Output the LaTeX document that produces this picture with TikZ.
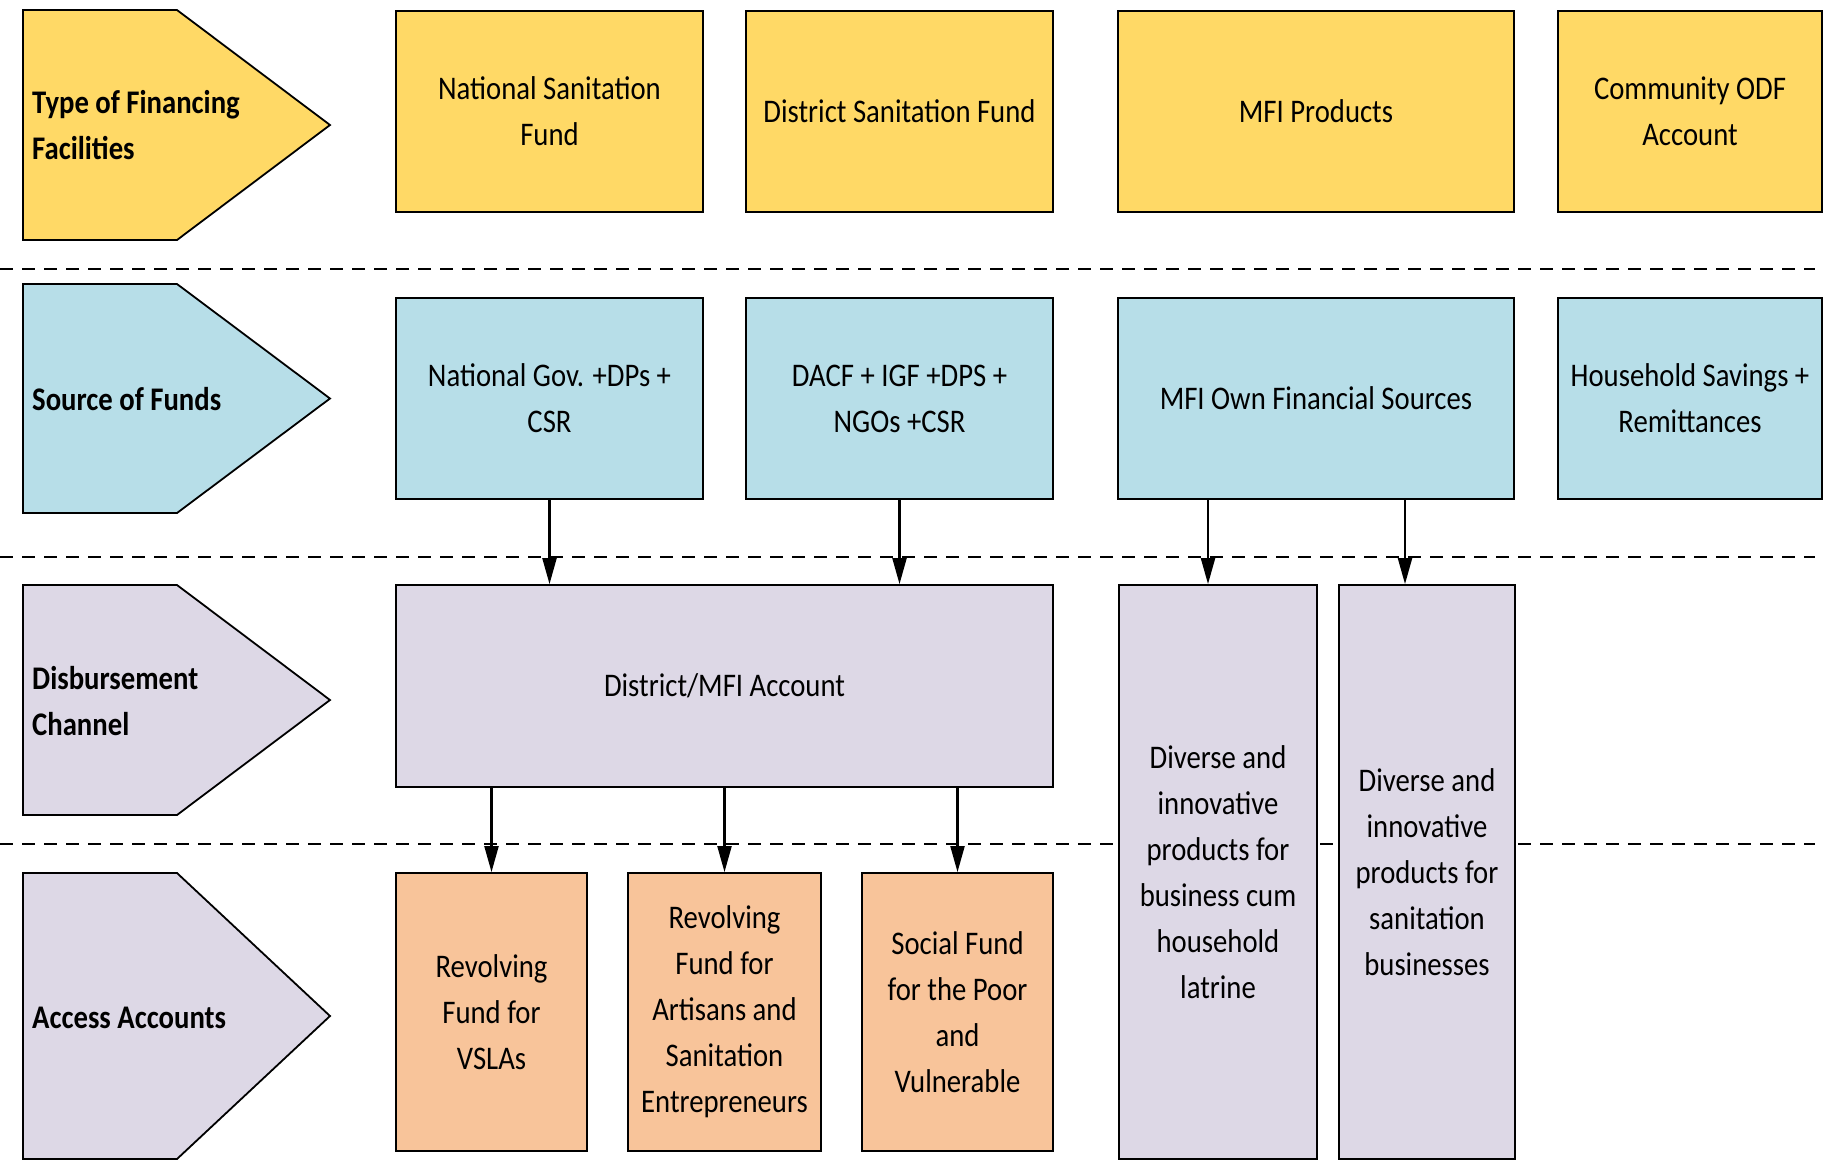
\documentclass[tikz,border=0pt]{standalone}
\usepackage{fontspec}
\setmainfont{Carlito}[FakeStretch=0.87]
\usetikzlibrary{arrows.meta}
\definecolor{yel}{HTML}{FFD966}
\definecolor{blu}{HTML}{B7DEE8}
\definecolor{lav}{HTML}{DDD8E6}
\definecolor{org}{HTML}{F8C49A}
\tikzset{
  box/.style={draw=black, line width=1.8pt, inner sep=0pt, align=center,
    font=\fontsize{33}{46}\selectfont},
  pent/.style={draw=black, line width=1.8pt},
  plabel/.style={anchor=west, inner sep=0pt, align=left,
    font=\fontsize{33}{46}\selectfont\bfseries},
  sep/.style={dashed, dash pattern=on 13pt off 9pt, line width=2.6pt},
  arr/.style={line width=2.1pt, -{Triangle[length=26pt,width=14pt]}}
}
\begin{document}
\begin{tikzpicture}[x=1pt,y=-1pt]
\useasboundingbox (0,0) rectangle (1825,1160);
% separators
\coordinate (s1a) at (0,269); \coordinate (s1b) at (1815,269);
\coordinate (s2a) at (0,557); \coordinate (s2b) at (1815,557);
\coordinate (s3a) at (0,844); \coordinate (s3b) at (1815,844);
\draw[sep] (s1a) -- (s1b);
\draw[sep] (s2a) -- (s2b);
\draw[sep] (s3a) -- (s3b);
% pentagons
\draw[pent, fill=yel] (23,10) -- (177,10) -- (330,125) -- (177,240) -- (23,240) -- cycle;
\draw[pent, fill=blu] (23,284) -- (177,284) -- (330,398.5) -- (177,513) -- (23,513) -- cycle;
\draw[pent, fill=lav] (23,585) -- (177,585) -- (330,700) -- (177,815) -- (23,815) -- cycle;
\draw[pent, fill=lav] (23,873) -- (177,873) -- (330,1016) -- (177,1159) -- (23,1159) -- cycle;
\node[plabel] (l1) at (32,125) {Type of Financing\\Facilities};
\node[plabel] (l2) at (32,399) {Source of Funds};
\node[plabel] (l3) at (32,701) {Disbursement\\Channel};
\node[plabel] (l4) at (32,1018) {Access Accounts};
% row 1
\node[box, fill=yel, minimum width=307pt, minimum height=201pt] (nsf) at (549.5,111.5) {National Sanitation\\Fund};
\node[box, fill=yel, minimum width=307pt, minimum height=201pt] (dsf) at (899.5,111.5) {District Sanitation Fund};
\node[box, fill=yel, minimum width=396pt, minimum height=201pt] (mfp) at (1316,111.5) {MFI Products};
\node[box, fill=yel, minimum width=264pt, minimum height=201pt] (odf) at (1690,111.5) {Community ODF\\Account};
% row 2
\node[box, fill=blu, minimum width=307pt, minimum height=201pt] (ng) at (549.5,398.5) {National Gov. +DPs +\\CSR};
\node[box, fill=blu, minimum width=307pt, minimum height=201pt] (dacf) at (899.5,398.5) {DACF + IGF +DPS +\\NGOs +CSR};
\node[box, fill=blu, minimum width=396pt, minimum height=201pt] (mfo) at (1316,398.5) {MFI Own Financial Sources};
\node[box, fill=blu, minimum width=264pt, minimum height=201pt] (hs) at (1690,398.5) {Household Savings +\\Remittances};
% row 3
\node[box, fill=lav, minimum width=657pt, minimum height=202pt] (dma) at (724.5,686) {District/MFI Account};
\node[box, fill=lav, minimum width=198pt, minimum height=574pt] (dv1) at (1218,872) {Diverse and\\innovative\\products for\\business cum\\household\\latrine};
\node[box, fill=lav, minimum width=176pt, minimum height=574pt] (dv2) at (1427,872) {Diverse and\\innovative\\products for\\sanitation\\businesses};
% row 4
\node[box, fill=org, minimum width=191pt, minimum height=278pt] (rv) at (491.5,1012) {Revolving\\Fund for\\VSLAs};
\node[box, fill=org, minimum width=193pt, minimum height=278pt] (ra) at (724.5,1012) {Revolving\\Fund for\\Artisans and\\Sanitation\\Entrepreneurs};
\node[box, fill=org, minimum width=191pt, minimum height=278pt] (sf) at (957.5,1012) {Social Fund\\for the Poor\\and\\Vulnerable};
% connectors
\draw[arr] (ng.south) -- (ng.south |- dma.north);
\draw[arr] (dacf.south) -- (dacf.south |- dma.north);
\draw[arr] ([xshift=-108pt]mfo.south) -- ([xshift=-108pt]mfo.south |- dv1.north);
\draw[arr] ([xshift=89pt]mfo.south) -- ([xshift=89pt]mfo.south |- dv2.north);
\draw[arr] (dma.south -| rv.north) -- (rv.north);
\draw[arr] (dma.south -| ra.north) -- (ra.north);
\draw[arr] (dma.south -| sf.north) -- (sf.north);
\end{tikzpicture}
\end{document}
